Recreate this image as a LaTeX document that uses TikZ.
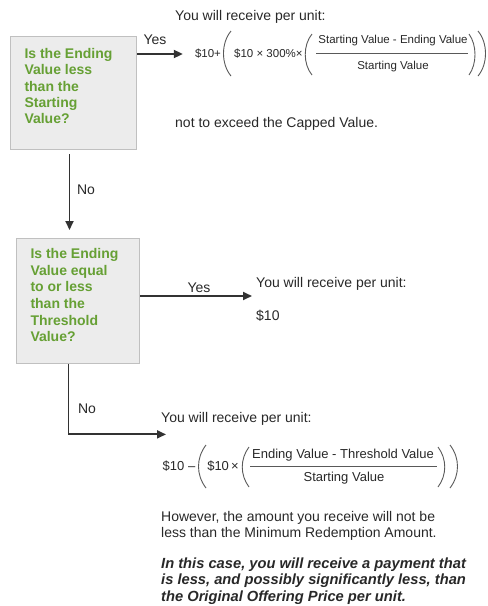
\documentclass[tikz,border=0pt]{standalone}
\usepackage{fontspec}
\setmainfont{Liberation Sans}
\usetikzlibrary{arrows.meta}
\definecolor{qgreen}{RGB}{102,160,52}
\definecolor{qfill}{RGB}{236,236,236}
\definecolor{qline}{RGB}{192,192,192}
\definecolor{txt}{RGB}{40,40,40}
\definecolor{conn}{RGB}{50,50,50}
\begin{document}
\begin{tikzpicture}[x=1pt,y=-1pt,
  qbox/.style={draw=qline,fill=qfill,line width=1pt,inner sep=0pt,anchor=north west,
    text=qgreen,font=\fontsize{14}{16.2}\selectfont\bfseries},
  body/.style={inner sep=0pt,text=txt,font=\fontsize{14}{16}\selectfont},
  para/.style={body,align=left,anchor=north west},
  lbl/.style={inner sep=0pt,text=txt,font=\fontsize{14}{16}\selectfont},
  fa/.style={inner sep=0pt,text=txt,font=\fontsize{11.5}{13}\selectfont},
  fb/.style={inner sep=0pt,text=txt,font=\fontsize{13}{15}\selectfont},
  arr/.style={draw=conn,line width=1.8pt,-{Triangle[length=9pt,width=8pt]}},
  plain/.style={draw=conn,line width=1.8pt},
  paren/.style={draw=black!65,line width=0.9pt},
  fracline/.style={draw=black!65,line width=0.9pt}]
\useasboundingbox (0,0) rectangle (488,606);

% question boxes
\node[qbox] (q1) at (10,36) {\parbox[c][113pt][t]{126pt}{\raggedright\leftskip=14pt\vspace*{12pt}Is the Ending\\Value less\\than the\\Starting\\Value?}};
\node[qbox,font=\fontsize{14}{16.6}\selectfont\bfseries] (q2) at (16,238) {\parbox[c][125pt][t]{123pt}{\raggedright\leftskip=14pt\vspace*{10pt}Is the Ending\\Value equal\\to or less\\than the\\Threshold\\Value?}};

% first outcome
\node[body,anchor=base west] (r1a) at (175,20) {You will receive per unit:};
\node[fa] (f1a) at (208,54) {\$10+};
\node[fa,anchor=west] (f1b) at (234,54) {\$10 × 300\%×};
\node[fa] (f1n) at (393,41) {Starting Value - Ending Value};
\node[fa] (f1d) at (393,67) {Starting Value};
\draw[fracline] (316,53) -- (468,53);
\draw[paren] (231,31) .. controls (221,43) and (221,64) .. (231,76);
\draw[paren] (312,34) .. controls (303,45) and (303,64) .. (312,75);
\draw[paren] (469,34) .. controls (477,45) and (477,64) .. (469,75);
\draw[paren] (478,31) .. controls (488,43) and (488,64) .. (478,76);
\node[body,anchor=base west] (r1b) at (175,127) {not to exceed the Capped Value.};

% second outcome
\node[body,anchor=base west] (r2a) at (256,287) {You will receive per unit:};
\node[body,anchor=base west] (r2b) at (256,320) {\$10};

% third outcome
\node[body,anchor=base west] (r3a) at (161,422) {You will receive per unit:};
\node[fb] (f2a) at (179,466) {\$10 –};
\node[fb] (f2b) at (223,466) {\$10\,×};
\node[fb] (f2n) at (343,455) {Ending Value - Threshold Value};
\node[fb] (f2d) at (344,478) {Starting Value};
\draw[fracline] (250,466) -- (437,466);
\draw[paren] (206,445) .. controls (196,458) and (196,475) .. (206,488);
\draw[paren] (249,447) .. controls (240,459) and (240,475) .. (249,487);
\draw[paren] (438,447) .. controls (447,459) and (447,475) .. (438,487);
\draw[paren] (450,445) .. controls (460,458) and (460,475) .. (450,488);
\node[para] (r3b) at (161,510.7) {However, the amount you receive will not be\\less than the Minimum Redemption Amount.};
\node[para,font=\fontsize{14.7}{16.5}\selectfont\bfseries\itshape] (r3c) at (161,557.3) {In this case, you will receive a payment that\\is less, and possibly significantly less, than\\the Original Offering Price per unit.};

% connectors
\draw[arr] (q1.east |- f1a.west) -- ([xshift=-12pt]f1a.west);
\node[lbl] (y1) at (155,40) {Yes};
\draw[arr,shorten >=8pt] ([xshift=-4pt,yshift=-4pt]q1.south) -- ([xshift=-4pt]q1.south |- q2.north);
\node[lbl] (n1) at (86,190) {No};
\draw[arr,shorten >=4pt] (q2.east |- 0,296) -- (r2a.west |- 0,296);
\node[lbl] (y2) at (199,288) {Yes};
\draw[arr] ([xshift=-9.5pt]q2.south) |- ([xshift=5pt,yshift=-16pt]r3a.west);
\node[lbl] (n2) at (87,409) {No};
\end{tikzpicture}
\end{document}
